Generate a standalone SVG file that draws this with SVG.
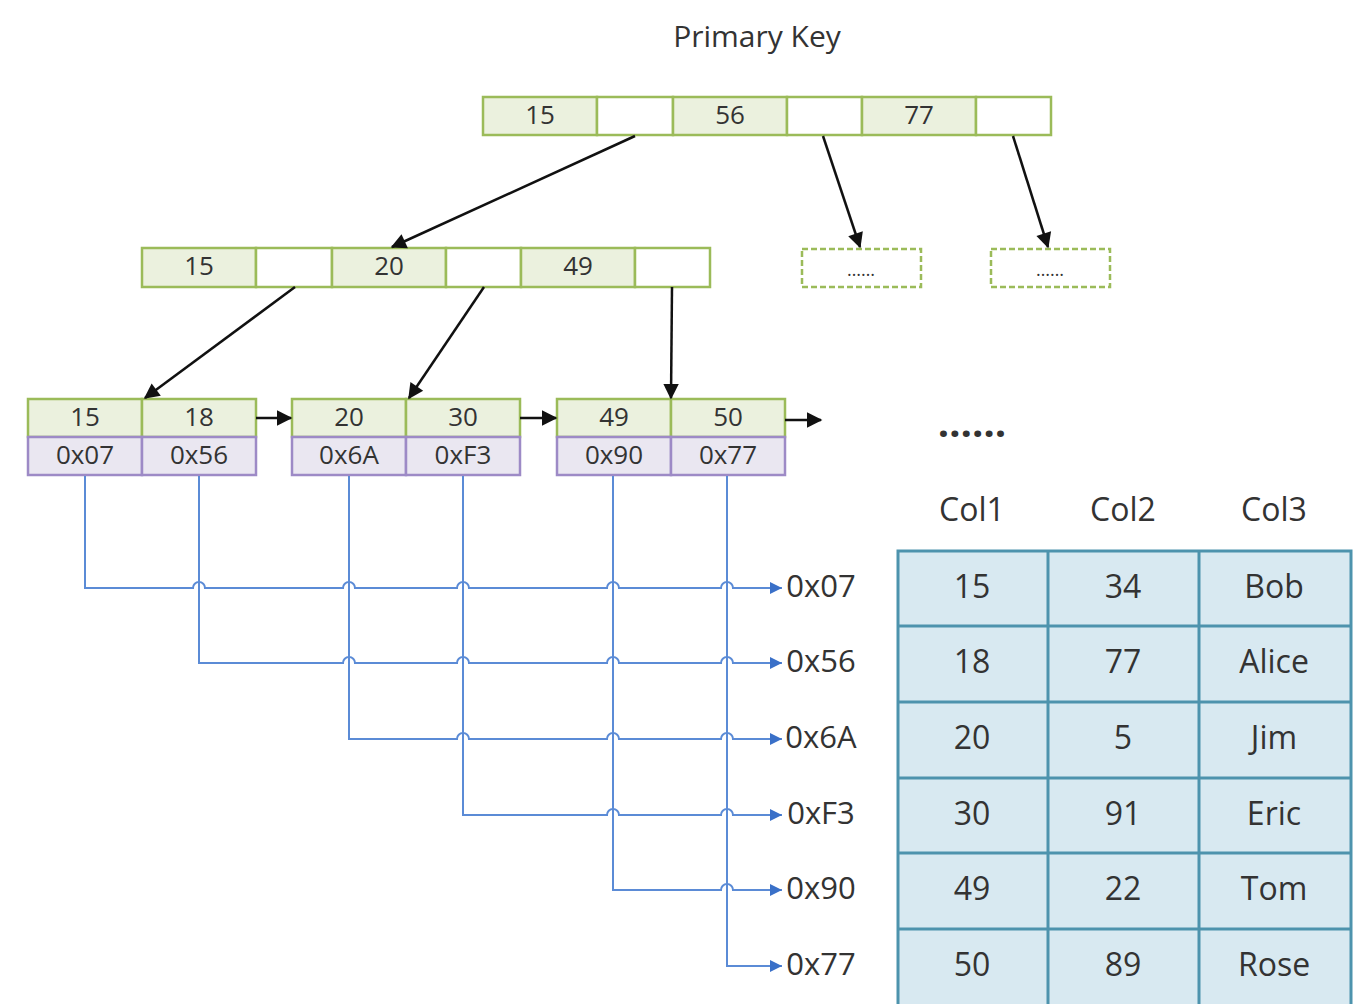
<svg xmlns="http://www.w3.org/2000/svg" width="1372" height="1004" viewBox="0 0 1372 1004">
<style>
text{font-family:"Open Sans","Noto Sans","Liberation Sans",sans-serif;fill:#333;text-anchor:middle;dominant-baseline:central}
.g{fill:#ebf1de;stroke:#9bbb59;stroke-width:2.5}
.w{fill:#fff;stroke:#9bbb59;stroke-width:2.5}
.p{fill:#eae7f1;stroke:#9d8ac6;stroke-width:2.5}
.d{fill:#fff;stroke:#9bbb59;stroke-width:2.5;stroke-dasharray:6 3}
.k{font-size:26px}
.arr{stroke:#111;stroke-width:2.5;fill:none;marker-end:url(#ah)}
.bl{stroke:#5b8bd6;stroke-width:2;fill:none}
.t{fill:#d8e9f1;stroke:#4d93ad;stroke-width:3}
.tv{font-size:32px}
</style>
<defs>
<marker id="ah" viewBox="0 0 10 10" refX="9" refY="5" markerWidth="7" markerHeight="7" markerUnits="userSpaceOnUse" orient="auto" style="overflow:visible">
<path d="M0,0 L10,5 L0,10 z" fill="#111" transform="scale(2.2) translate(-5,-2.7)"/>
</marker>
<marker id="bh" viewBox="0 0 10 10" refX="10" refY="5" markerWidth="12" markerHeight="12" markerUnits="userSpaceOnUse" orient="auto">
<path d="M0,0 L10,5 L0,10 z" fill="#3a70c8"/>
</marker>
</defs>
<text x="757" y="35" style="font-size:30px">Primary Key</text>

<g id="root">
<rect class="g" x="483" y="97" width="114" height="38"/>
<rect class="w" x="597" y="97" width="76" height="38"/>
<rect class="g" x="673" y="97" width="114" height="38"/>
<rect class="w" x="787" y="97" width="75" height="38"/>
<rect class="g" x="862" y="97" width="114" height="38"/>
<rect class="w" x="976" y="97" width="75" height="38"/>
<text class="k" x="540" y="114">15</text>
<text class="k" x="730" y="114">56</text>
<text class="k" x="919" y="114">77</text>
</g>

<g id="mid">
<rect class="g" x="142" y="248" width="114" height="39"/>
<rect class="w" x="256" y="248" width="76" height="39"/>
<rect class="g" x="332" y="248" width="114" height="39"/>
<rect class="w" x="446" y="248" width="75" height="39"/>
<rect class="g" x="521" y="248" width="114" height="39"/>
<rect class="w" x="635" y="248" width="75" height="39"/>
<text class="k" x="199" y="265">15</text>
<text class="k" x="389" y="265">20</text>
<text class="k" x="578" y="265">49</text>
</g>

<g id="more1">
<rect class="d" x="802" y="249" width="119" height="38"/>
<text x="861" y="269" style="font-size:18px">……</text>
</g>
<g id="more2">
<rect class="d" x="991" y="249" width="119" height="38"/>
<text x="1050" y="269" style="font-size:18px">……</text>
</g>

<g id="leaf1">
<rect class="g" x="28" y="399" width="114" height="38"/>
<rect class="g" x="142" y="399" width="114" height="38"/>
<rect class="p" x="28" y="437" width="114" height="38"/>
<rect class="p" x="142" y="437" width="114" height="38"/>
<text class="k" x="85" y="416">15</text>
<text class="k" x="199" y="416">18</text>
<text class="k" x="85" y="454">0x07</text>
<text class="k" x="199" y="454">0x56</text>
</g>
<g id="leaf2">
<rect class="g" x="292" y="399" width="114" height="38"/>
<rect class="g" x="406" y="399" width="114" height="38"/>
<rect class="p" x="292" y="437" width="114" height="38"/>
<rect class="p" x="406" y="437" width="114" height="38"/>
<text class="k" x="349" y="416">20</text>
<text class="k" x="463" y="416">30</text>
<text class="k" x="349" y="454">0x6A</text>
<text class="k" x="463" y="454">0xF3</text>
</g>
<g id="leaf3">
<rect class="g" x="557" y="399" width="114" height="38"/>
<rect class="g" x="671" y="399" width="114" height="38"/>
<rect class="p" x="557" y="437" width="114" height="38"/>
<rect class="p" x="671" y="437" width="114" height="38"/>
<text class="k" x="614" y="416">49</text>
<text class="k" x="728" y="416">50</text>
<text class="k" x="614" y="454">0x90</text>
<text class="k" x="728" y="454">0x77</text>
</g>

<g id="connectors">
<line class="arr" x1="635" y1="136" x2="392" y2="247"/>
<line class="arr" x1="823" y1="136" x2="860" y2="247"/>
<line class="arr" x1="1013" y1="136" x2="1048" y2="247"/>
<line class="arr" x1="295" y1="287" x2="145" y2="398"/>
<line class="arr" x1="484" y1="287" x2="409" y2="398"/>
<line class="arr" x1="672" y1="287" x2="671" y2="398"/>
<line class="arr" x1="256" y1="418" x2="291" y2="418"/>
<line class="arr" x1="520" y1="418" x2="556" y2="418"/>
<line class="arr" x1="785" y1="420" x2="821" y2="420"/>

<g id="pointers">
<path class="bl" marker-end="url(#bh)" d="M85,476 V588 H193 a6,6 0 0 1 12,0 H343 a6,6 0 0 1 12,0 H457 a6,6 0 0 1 12,0 H607 a6,6 0 0 1 12,0 H721 a6,6 0 0 1 12,0 H782"/>
<path class="bl" marker-end="url(#bh)" d="M199,476 V663 H343 a6,6 0 0 1 12,0 H457 a6,6 0 0 1 12,0 H607 a6,6 0 0 1 12,0 H721 a6,6 0 0 1 12,0 H782"/>
<path class="bl" marker-end="url(#bh)" d="M349,476 V739 H457 a6,6 0 0 1 12,0 H607 a6,6 0 0 1 12,0 H721 a6,6 0 0 1 12,0 H782"/>
<path class="bl" marker-end="url(#bh)" d="M463,476 V815 H607 a6,6 0 0 1 12,0 H721 a6,6 0 0 1 12,0 H782"/>
<path class="bl" marker-end="url(#bh)" d="M613,476 V890 H721 a6,6 0 0 1 12,0 H782"/>
<path class="bl" marker-end="url(#bh)" d="M727,476 V966 H782"/>
</g>
</g>

<g id="addresses">
<text x="821" y="585" class="tv" style="font-size:31px">0x07</text>
<text x="821" y="660" class="tv" style="font-size:31px">0x56</text>
<text x="821" y="736" class="tv" style="font-size:31px">0x6A</text>
<text x="821" y="812" class="tv" style="font-size:31px">0xF3</text>
<text x="821" y="887" class="tv" style="font-size:31px">0x90</text>
<text x="821" y="963" class="tv" style="font-size:31px">0x77</text>
</g>

<text x="972" y="421" style="font-size:40px;font-weight:bold">……</text>

<g id="table">
<text class="tv" x="972" y="508">Col1</text>
<text class="tv" x="1123" y="508">Col2</text>
<text class="tv" x="1274" y="508">Col3</text>
<rect class="t" x="898" y="551" width="453" height="456"/>
<path d="M1048,551 V1004 M1199,551 V1004 M898,626 H1351 M898,702 H1351 M898,778 H1351 M898,853 H1351 M898,929 H1351" stroke="#4d93ad" stroke-width="3" fill="none"/>
<text class="tv" x="972" y="585">15</text><text class="tv" x="1123" y="585">34</text><text class="tv" x="1274" y="585">Bob</text>
<text class="tv" x="972" y="660">18</text><text class="tv" x="1123" y="660">77</text><text class="tv" x="1274" y="660">Alice</text>
<text class="tv" x="972" y="736">20</text><text class="tv" x="1123" y="736">5</text><text class="tv" x="1274" y="736">Jim</text>
<text class="tv" x="972" y="812">30</text><text class="tv" x="1123" y="812">91</text><text class="tv" x="1274" y="812">Eric</text>
<text class="tv" x="972" y="887">49</text><text class="tv" x="1123" y="887">22</text><text class="tv" x="1274" y="887">Tom</text>
<text class="tv" x="972" y="963">50</text><text class="tv" x="1123" y="963">89</text><text class="tv" x="1274" y="963">Rose</text>
</g>
</svg>
